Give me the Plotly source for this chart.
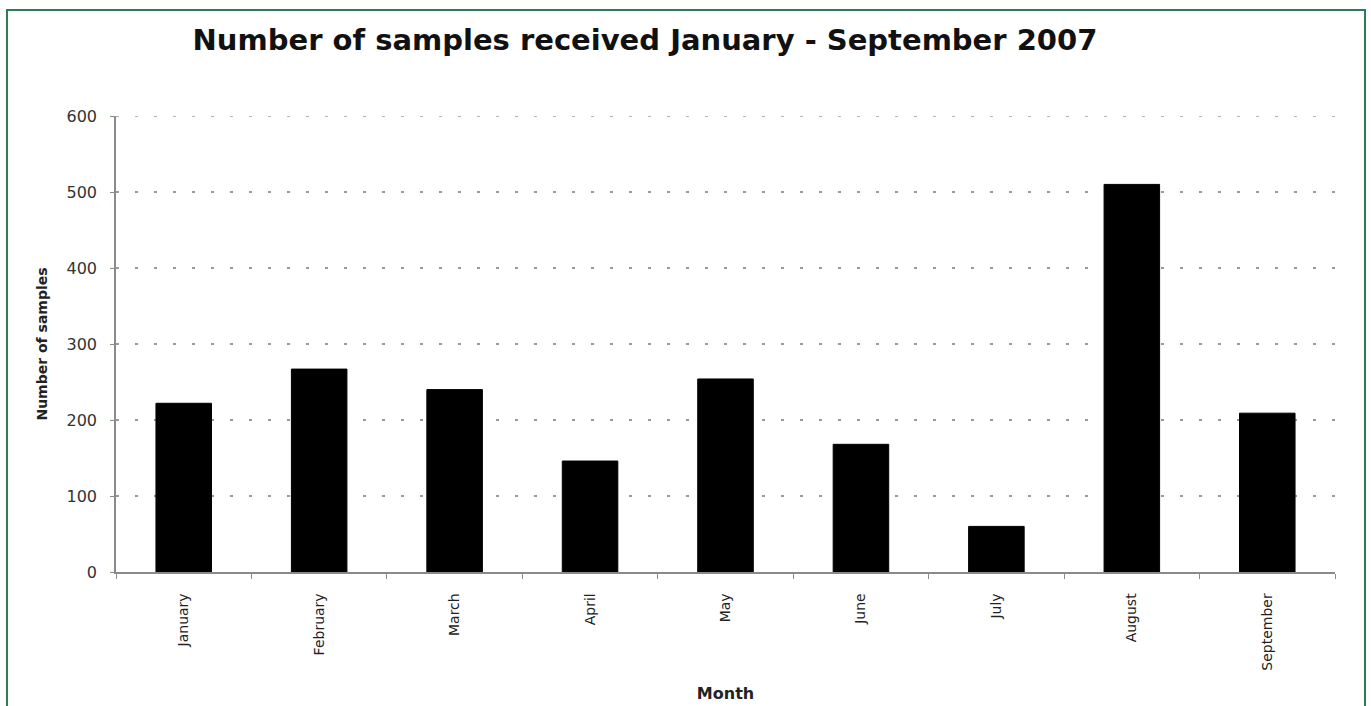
import plotly.graph_objects as go

# Monthly sample counts, 2007
months = ["January", "February", "March", "April", "May", "June",
          "July", "August", "September"]
samples = [222, 267, 240, 146, 254, 168, 60, 510, 209]

y_ticks = [0, 100, 200, 300, 400, 500, 600]

FONT = "DejaVu Sans, Liberation Sans, Arial, sans-serif"
GRID_COLOR = "#9a9a9a"
GRID_DASH = "3px,16px"

fig = go.Figure(
    go.Bar(
        x=months,
        y=samples,
        marker=dict(color="black", line=dict(color="black", width=1)),
        width=0.41,
    )
)

fig.update_layout(
    width=1371,
    height=706,
    margin=dict(l=116, r=36, t=116, b=134),
    paper_bgcolor="white",
    plot_bgcolor="white",
    showlegend=False,
    font=dict(family=FONT, color="#222"),
    title=dict(
        text="<b>Number of samples received January - September 2007</b>",
        x=645 / 1371,
        xanchor="center",
        y=1 - 40 / 706,
        yanchor="middle",
        font=dict(size=29, family=FONT, color="#111"),
    ),
    shapes=[
        # outer frame
        dict(
            type="rect",
            xref="paper",
            yref="paper",
            x0=(7 - 116) / 1219,
            x1=(1365 - 116) / 1219,
            y0=(572 - 720) / 456,
            y1=(572 - 10) / 456,
            line=dict(color="#2f7d58", width=2),
            layer="below",
        ),
        # dotted gridline at the top of the value range
        dict(
            type="line",
            xref="paper",
            yref="y",
            x0=0,
            x1=1,
            y0=y_ticks[-1],
            y1=y_ticks[-1],
            line=dict(color=GRID_COLOR, width=1.5, dash=GRID_DASH),
            layer="below",
        ),
    ],
)

fig.update_xaxes(
    type="category",
    automargin=False,
    showgrid=False,
    showline=True,
    linecolor="#8a8a8a",
    linewidth=1.5,
    ticks="outside",
    tickson="boundaries",
    ticklen=5,
    tickcolor="#8a8a8a",
    tickangle=-90,
    ticklabelstandoff=14,
    tickfont=dict(size=14, family=FONT, color="#222"),
    title=dict(text="<b>Month</b>", font=dict(size=16, family=FONT, color="#222"), standoff=18),
)

fig.update_yaxes(
    range=[0, 600],
    automargin=False,
    tickvals=y_ticks,
    showline=True,
    linecolor="#8a8a8a",
    linewidth=1.5,
    ticks="outside",
    ticklen=4,
    tickcolor="#8a8a8a",
    ticklabelstandoff=10,
    tickfont=dict(size=16, family=FONT, color="#333"),
    showgrid=True,
    gridcolor=GRID_COLOR,
    gridwidth=1.5,
    griddash=GRID_DASH,
    zeroline=False,
    title=dict(text="<b>Number of samples</b>", font=dict(size=14, family=FONT, color="#222"), standoff=16),
)

fig.write_html("out.html")
